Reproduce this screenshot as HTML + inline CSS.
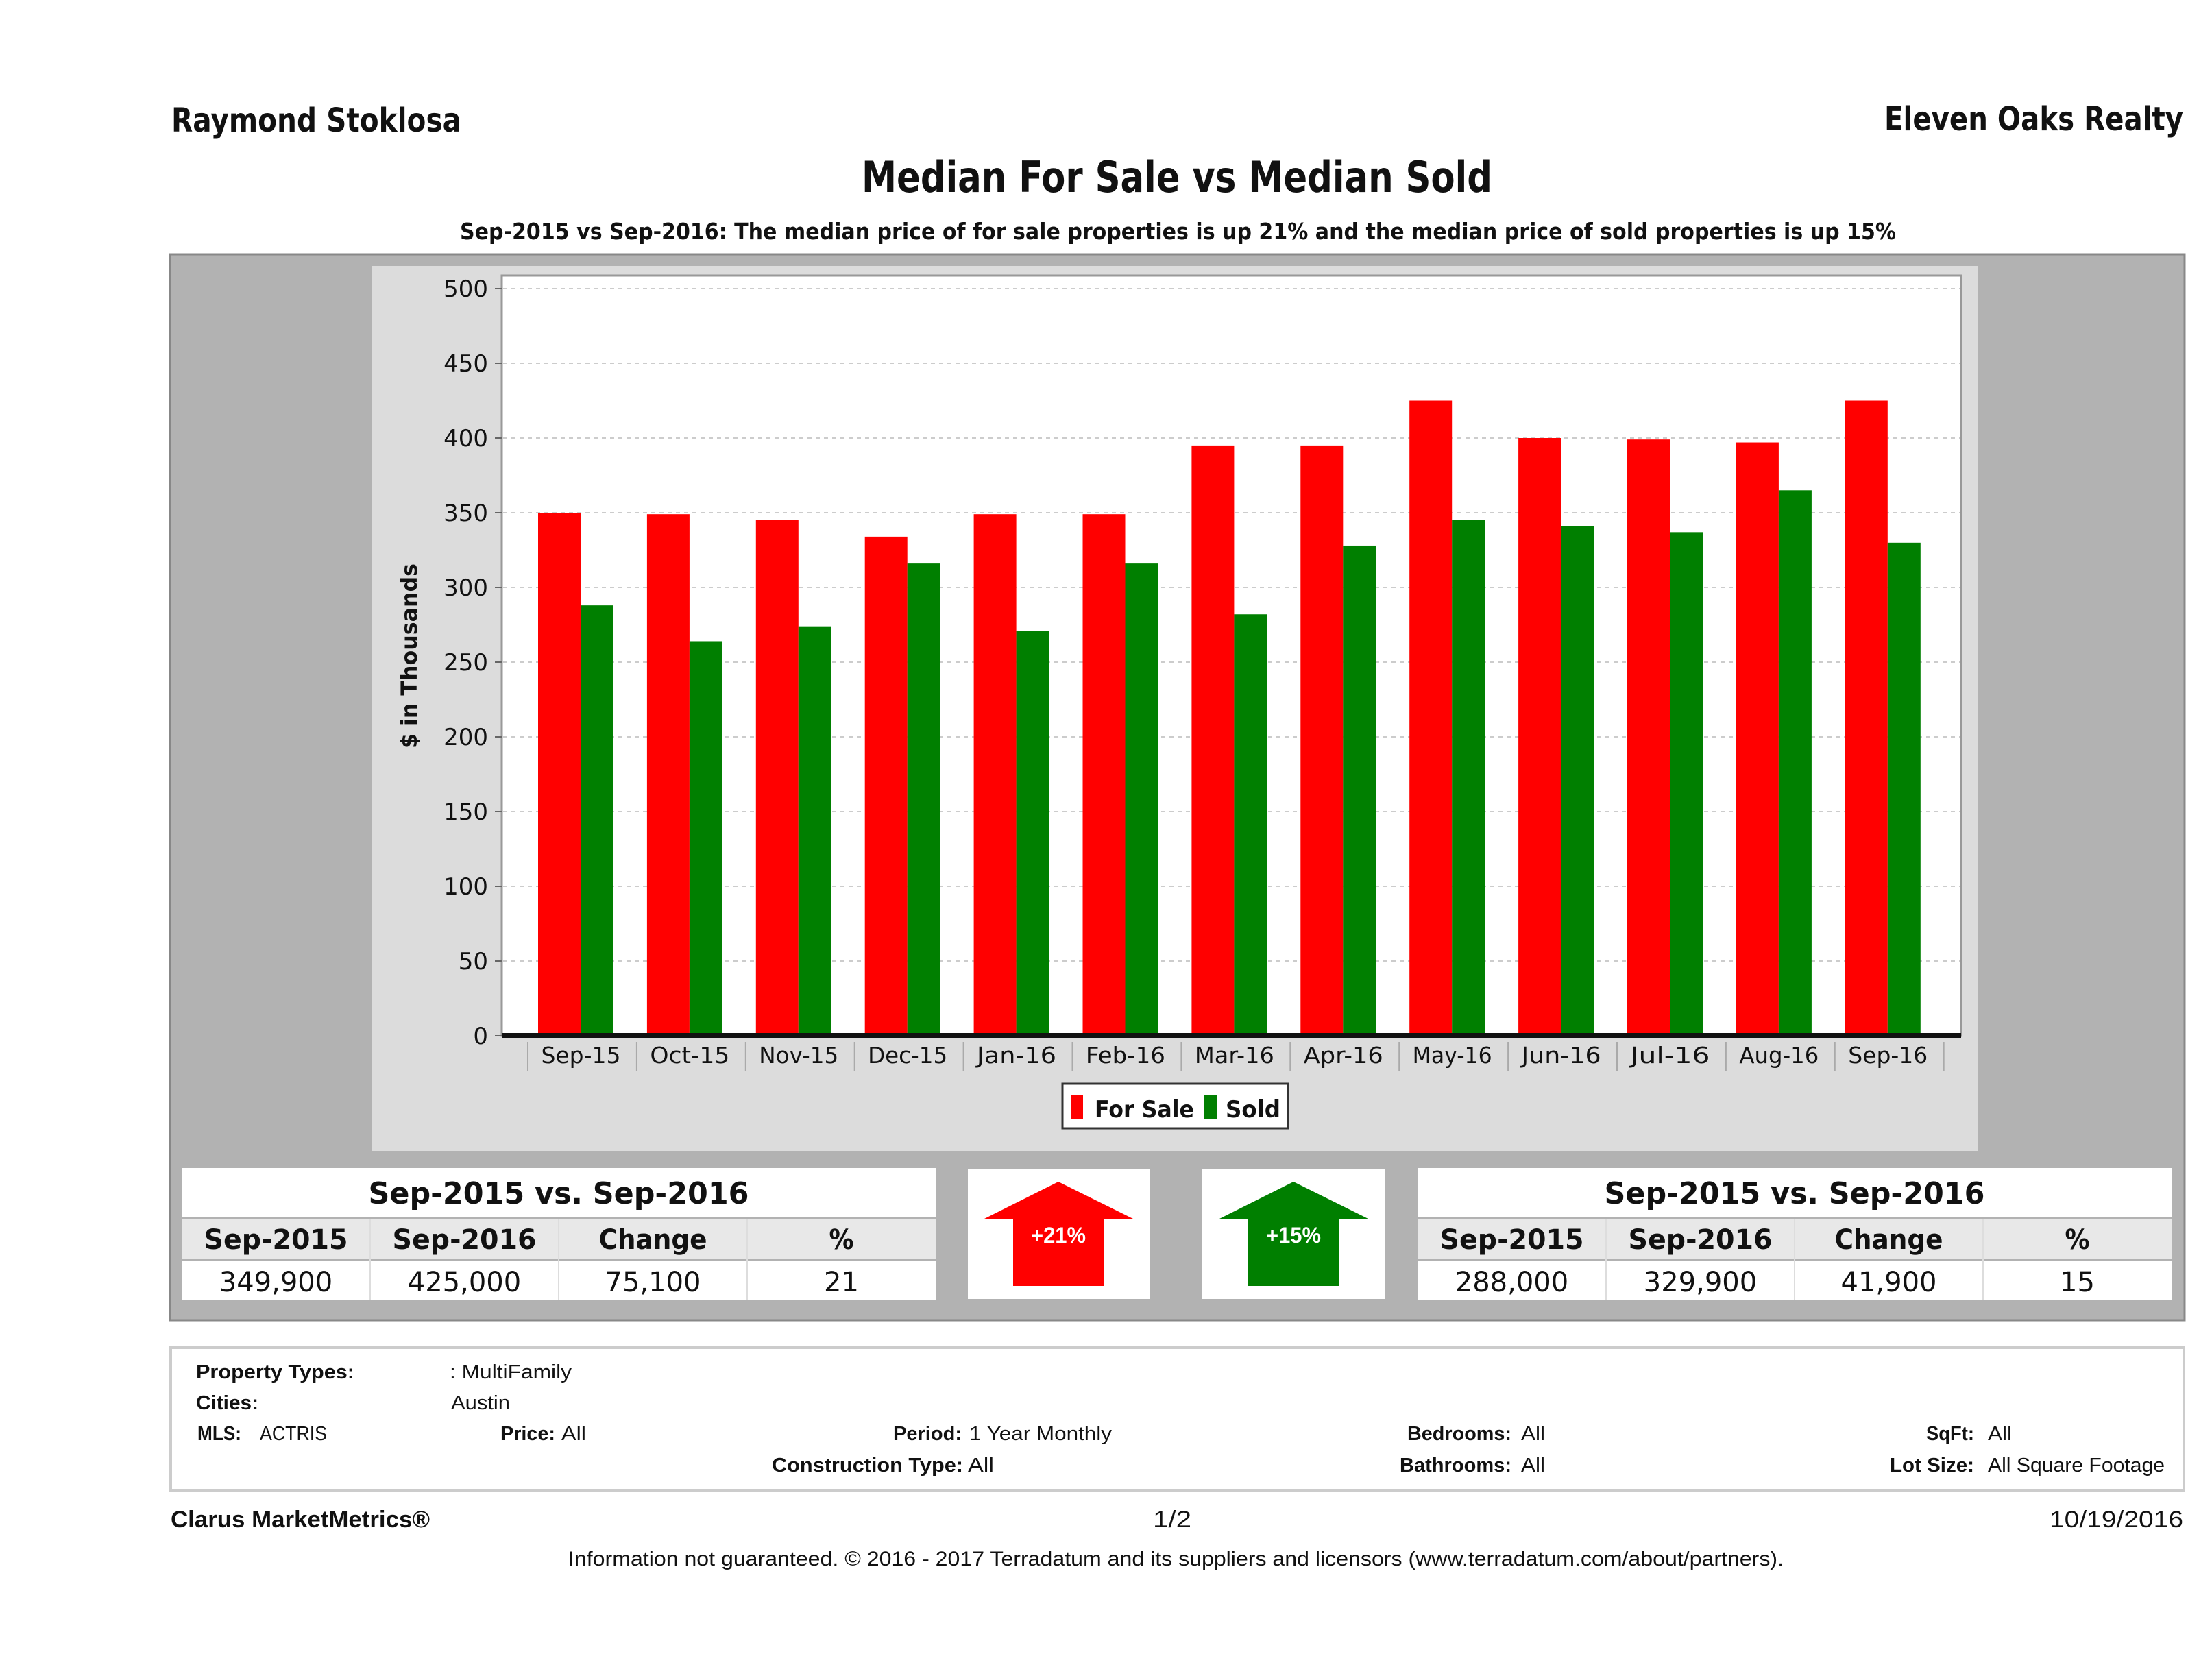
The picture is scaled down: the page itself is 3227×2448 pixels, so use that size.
<!DOCTYPE html>
<html><head><meta charset="utf-8"><style>
html,body{margin:0;padding:0;background:#fff}
svg{display:block}
text{font-family:"DejaVu Sans","Liberation Sans",sans-serif;fill:#111}
.b{font-weight:bold}
.n{font-family:"Liberation Sans",sans-serif}
</style></head><body>
<svg width="3227" height="2448" viewBox="0 0 3227 2448" xmlns="http://www.w3.org/2000/svg">
<text x="250" y="192" class="b" font-size="48" textLength="423" lengthAdjust="spacingAndGlyphs">Raymond Stoklosa</text>
<text x="2749" y="190" class="b" font-size="48" textLength="436" lengthAdjust="spacingAndGlyphs">Eleven Oaks Realty</text>
<text x="1257" y="280" class="b" font-size="62" textLength="920" lengthAdjust="spacingAndGlyphs">Median For Sale vs Median Sold</text>
<text x="671" y="349" class="b" font-size="33" textLength="2095" lengthAdjust="spacingAndGlyphs">Sep-2015 vs Sep-2016: The median price of for sale properties is up 21% and the median price of sold properties is up 15%</text>

<rect x="248" y="371" width="2939" height="1555" fill="#b2b2b2" stroke="#888" stroke-width="3"/>
<rect x="543" y="388" width="2342" height="1291" fill="#dcdcdc"/>
<rect x="732" y="402" width="2129" height="1109" fill="#fff" stroke="#999" stroke-width="3"/>
<g id="grid"></g>
<g id="bars"></g>
<rect x="732" y="1507" width="2129" height="7" fill="#111"/>
<g id="xlab"></g>
<g id="ylab"></g>
<text transform="translate(608,957) rotate(-90)" text-anchor="middle" class="b" font-size="32" textLength="270" lengthAdjust="spacingAndGlyphs">$ in Thousands</text>

<rect x="1550" y="1581" width="329" height="65" fill="#fff" stroke="#333" stroke-width="3"/>
<rect x="1562" y="1597" width="18" height="36" fill="#f00"/>
<text x="1597" y="1630" class="b" font-size="34" textLength="145" lengthAdjust="spacingAndGlyphs">For Sale</text>
<rect x="1757" y="1597" width="18" height="36" fill="#007f00"/>
<text x="1788" y="1630" class="b" font-size="34" textLength="80" lengthAdjust="spacingAndGlyphs">Sold</text>

<g id="tables"></g>

<rect x="1412" y="1705" width="265" height="190" fill="#fff"/>
<polygon points="1544,1724 1653,1778 1610,1778 1610,1876 1478,1876 1478,1778 1436,1778" fill="#f00"/>
<text x="1544" y="1813" text-anchor="middle" font-size="32" style="fill:#fff;font-weight:bold" class="n" textLength="80" lengthAdjust="spacingAndGlyphs">+21%</text>
<rect x="1754" y="1705" width="266" height="190" fill="#fff"/>
<polygon points="1887,1724 1996,1778 1953,1778 1953,1876 1821,1876 1821,1778 1779,1778" fill="#007f00"/>
<text x="1887" y="1813" text-anchor="middle" font-size="32" style="fill:#fff;font-weight:bold" class="n" textLength="80" lengthAdjust="spacingAndGlyphs">+15%</text>

<rect x="249" y="1966" width="2937" height="208" fill="#fff" stroke="#ccc" stroke-width="4"/>
<g font-size="29" class="n">
<text x="286" y="2011" class="b n" textLength="231" lengthAdjust="spacingAndGlyphs">Property Types:</text>
<text x="656" y="2011" class="n" textLength="178" lengthAdjust="spacingAndGlyphs">: MultiFamily</text>
<text x="286" y="2056" class="b n" textLength="91" lengthAdjust="spacingAndGlyphs">Cities:</text>
<text x="658" y="2056" class="n" textLength="86" lengthAdjust="spacingAndGlyphs">Austin</text>
<text x="288" y="2101" class="b n" textLength="64" lengthAdjust="spacingAndGlyphs">MLS:</text>
<text x="379" y="2101" class="n" textLength="98" lengthAdjust="spacingAndGlyphs">ACTRIS</text>
<text x="730" y="2101" class="b n" textLength="80" lengthAdjust="spacingAndGlyphs">Price:</text>
<text x="819" y="2101" class="n" textLength="36" lengthAdjust="spacingAndGlyphs">All</text>
<text x="1303" y="2101" class="b n" textLength="100" lengthAdjust="spacingAndGlyphs">Period:</text>
<text x="1414" y="2101" class="n" textLength="208" lengthAdjust="spacingAndGlyphs">1 Year Monthly</text>
<text x="2053" y="2101" class="b n" textLength="152" lengthAdjust="spacingAndGlyphs">Bedrooms:</text>
<text x="2219" y="2101" class="n" textLength="35" lengthAdjust="spacingAndGlyphs">All</text>
<text x="2810" y="2101" class="b n" textLength="70" lengthAdjust="spacingAndGlyphs">SqFt:</text>
<text x="2900" y="2101" class="n" textLength="35" lengthAdjust="spacingAndGlyphs">All</text>
<text x="1126" y="2147" class="b n" textLength="279" lengthAdjust="spacingAndGlyphs">Construction Type:</text>
<text x="1412" y="2147" class="n" textLength="38" lengthAdjust="spacingAndGlyphs">All</text>
<text x="2042" y="2147" class="b n" textLength="163" lengthAdjust="spacingAndGlyphs">Bathrooms:</text>
<text x="2219" y="2147" class="n" textLength="35" lengthAdjust="spacingAndGlyphs">All</text>
<text x="2757" y="2147" class="b n" textLength="123" lengthAdjust="spacingAndGlyphs">Lot Size:</text>
<text x="2900" y="2147" class="n" textLength="258" lengthAdjust="spacingAndGlyphs">All Square Footage</text>
</g>
<text x="249" y="2228" class="b n" font-size="34" textLength="378" lengthAdjust="spacingAndGlyphs">Clarus MarketMetrics®</text>
<text x="1682" y="2228" class="n" font-size="34" textLength="56" lengthAdjust="spacingAndGlyphs">1/2</text>
<text x="2990" y="2228" class="n" font-size="34" textLength="195" lengthAdjust="spacingAndGlyphs">10/19/2016</text>
<text x="829" y="2284" class="n" font-size="30" textLength="1773" lengthAdjust="spacingAndGlyphs">Information not guaranteed. © 2016 - 2017 Terradatum and its suppliers and licensors (www.terradatum.com/about/partners).</text>
</svg>
<script>
var NS="http://www.w3.org/2000/svg";
function el(p,t,a,txt){var e=document.createElementNS(NS,t);for(var k in a)e.setAttribute(k,a[k]);if(txt!=null)e.textContent=txt;document.getElementById(p).appendChild(e);return e;}
function Y(v){return 1511-v*2.18;}
for(var v=50;v<=500;v+=50){el('grid','line',{x1:734,x2:2859,y1:Y(v),y2:Y(v),stroke:'#ccc','stroke-width':2,'stroke-dasharray':'6,6'});}
for(var v=0;v<=500;v+=50){el('ylab','line',{x1:722,x2:732,y1:Y(v),y2:Y(v),stroke:'#666','stroke-width':2});
 el('ylab','text',{x:712,y:Y(v)+12,'text-anchor':'end','font-size':34},String(v));}
var fs=[349.9,349,345,334,349,349,395,395,425,400,399,397,425];
var sd=[288,264,274,316,271,316,282,328,345,341,337,365,329.9];
var lab=["Sep-15","Oct-15","Nov-15","Dec-15","Jan-16","Feb-16","Mar-16","Apr-16","May-16","Jun-16","Jul-16","Aug-16","Sep-16"];
var gw=158.9;
for(var i=0;i<13;i++){var t=770+i*gw;
 el('bars','rect',{x:t+15,y:Y(fs[i]),width:62,height:1511-Y(fs[i]),fill:'#f00'});
 el('bars','rect',{x:t+77,y:Y(sd[i]),width:48,height:1511-Y(sd[i]),fill:'#007f00'});
 el('xlab','line',{x1:t,x2:t,y1:1520,y2:1562,stroke:'#aaa','stroke-width':2});
 el('xlab','text',{x:t+gw/2-2,y:1551,'text-anchor':'middle','font-size':33,textLength:116,lengthAdjust:'spacingAndGlyphs'},lab[i]);}
el('xlab','line',{x1:770+13*gw,x2:770+13*gw,y1:1520,y2:1562,stroke:'#aaa','stroke-width':2});
function table(x0,vals){
 var w=275;
 el('tables','rect',{x:x0,y:1704,width:4*w,height:71,fill:'#fff'});
 el('tables','rect',{x:x0,y:1778,width:4*w,height:59,fill:'#e8e8e8'});
 el('tables','rect',{x:x0,y:1840,width:4*w,height:57,fill:'#fff'});
 el('tables','text',{x:x0+2*w,y:1756,'text-anchor':'middle','font-size':44,'class':'b',textLength:555,lengthAdjust:'spacingAndGlyphs'},'Sep-2015 vs. Sep-2016');
 var h=['Sep-2015','Sep-2016','Change','%'],hl=[210,210,158,36];
 for(var c=0;c<4;c++){var cx=x0+c*w+w/2;
  if(c>0){el('tables','line',{x1:x0+c*w,x2:x0+c*w,y1:1778,y2:1897,stroke:'#ddd','stroke-width':2});}
  el('tables','text',{x:cx,y:1822,'text-anchor':'middle','font-size':40,'class':'b',textLength:hl[c],lengthAdjust:'spacingAndGlyphs'},h[c]);
  el('tables','text',{x:cx,y:1884,'text-anchor':'middle','font-size':40},vals[c]);}
}
table(265,['349,900','425,000','75,100','21']);
table(2068,['288,000','329,900','41,900','15']);
</script>
</body></html>
